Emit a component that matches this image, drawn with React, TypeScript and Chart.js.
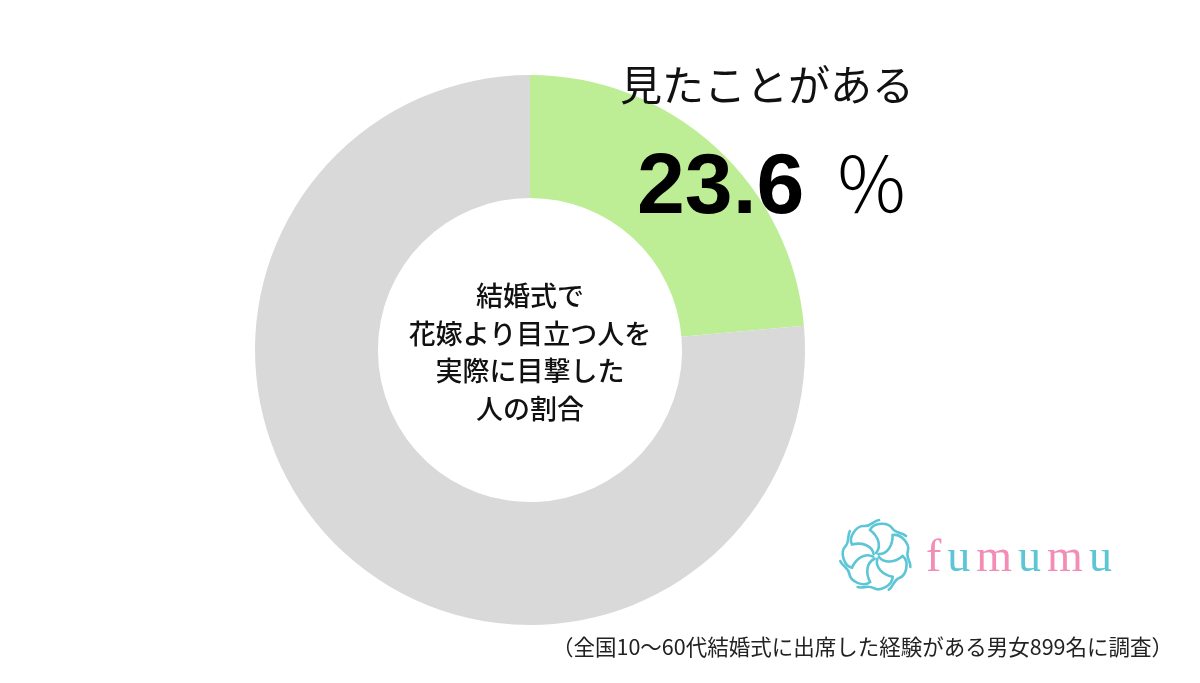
import React, { useEffect, useRef } from "react";
import { Chart, registerables } from "chart.js";

Chart.register(...registerables);

const categories = ["見たことがある", "見たことがない"];
const values = [23.6, 76.4];
const sliceColors = ["#bdee96", "#d9d9d9"];
const highlightLabel = "見たことがある";
const highlightValue = "23.6";
const centerLines = ["結婚式で", "花嫁より目立つ人を", "実際に目撃した", "人の割合"];
const footnote = "（全国10～60代結婚式に出席した経験がある男女899名に調査）";
const logoLetters = ["f", "u", "m", "u", "m", "u"];
const logoColors = ["#f28db6", "#5cc6d6"];

const W = 1200;
const H = 683;

function Flower() {
  const petals = [0, 1, 2, 3, 4, 5, 6];
  return (
    <svg
      width={76}
      height={76}
      viewBox="-38 -38 76 76"
      style={{ position: "absolute", left: 838, top: 518 }}
    >
      {petals.map((i) => (
        <g key={i} transform={`rotate(${(i * 360) / petals.length})`}>
          <path
            d="M0,-3 C6,-10 2,-20 -6,-26 C-2,-34 12,-34 16,-28 C20,-22 26,-24 30,-20"
            fill="none"
            stroke="#5cc6d6"
            strokeWidth={2.6}
            strokeLinecap="round"
          />
        </g>
      ))}
    </svg>
  );
}

export default function App() {
  const ref = useRef<HTMLCanvasElement | null>(null);

  useEffect(() => {
    if (!ref.current) return;
    const chart = new Chart(ref.current, {
      type: "doughnut",
      data: {
        labels: categories,
        datasets: [
          {
            data: values,
            backgroundColor: sliceColors,
            borderWidth: 0,
          },
        ],
      },
      options: {
        responsive: false,
        animation: false,
        cutout: "55.3%",
        layout: { padding: { top: 75, bottom: 58, left: 255, right: 395 } },
        plugins: {
          legend: { display: false },
          tooltip: { enabled: false },
          title: { display: false },
        },
      },
    });
    return () => chart.destroy();
  }, []);

  const jp = '"Noto Sans CJK JP", "Noto Sans", sans-serif';

  return (
    <div
      style={{
        position: "fixed",
        left: 0,
        top: 0,
        width: W,
        height: H,
        background: "#ffffff",
        overflow: "hidden",
      }}
    >
      <canvas ref={ref} width={W} height={H} style={{ position: "absolute", left: 0, top: 0 }} />
      <div
        style={{
          position: "absolute",
          left: 620,
          top: 56,
          fontFamily: jp,
          fontSize: 42,
          lineHeight: "54px",
          color: "#111",
          whiteSpace: "nowrap",
        }}
      >
        {highlightLabel}
      </div>
      <div
        style={{
          position: "absolute",
          left: 637,
          top: 130,
          whiteSpace: "nowrap",
          color: "#000",
          lineHeight: "100px",
        }}
      >
        <span style={{ fontFamily: '"Liberation Sans", Arial, sans-serif', fontWeight: 700, fontSize: 86 }}>
          {highlightValue}
        </span>
        <span style={{ fontFamily: jp, fontWeight: 300, fontSize: 76, marginLeft: 29 }}>％</span>
      </div>
      <div
        style={{
          position: "absolute",
          left: 380,
          width: 300,
          top: 276,
          textAlign: "center",
          fontFamily: jp,
          fontWeight: 500,
          fontSize: 27,
          lineHeight: "37.5px",
          color: "#111",
        }}
      >
        {centerLines.map((l, i) => (
          <div key={i}>{l}</div>
        ))}
      </div>
      <Flower />
      <div
        style={{
          position: "absolute",
          left: 926,
          top: 526,
          fontFamily: '"Liberation Serif", "DejaVu Serif", serif',
          fontSize: 46,
          lineHeight: "60px",
          letterSpacing: "6px",
          whiteSpace: "nowrap",
        }}
      >
        {logoLetters.map((c, i) => (
          <span key={i} style={{ color: logoColors[i % 2] }}>
            {c}
          </span>
        ))}
      </div>
      <div
        style={{
          position: "absolute",
          left: 552,
          top: 632,
          fontFamily: jp,
          fontSize: 21.5,
          lineHeight: "28px",
          color: "#222",
          whiteSpace: "nowrap",
        }}
      >
        {footnote}
      </div>
    </div>
  );
}
